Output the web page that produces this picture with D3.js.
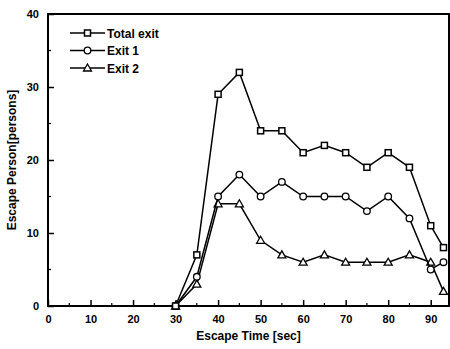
<!DOCTYPE html>
<html>
<head>
<meta charset="utf-8">
<script src="https://cdn.jsdelivr.net/npm/d3@7"></script>
<style>
  body { margin: 0; background: #fff; }
  text { font-family: "Liberation Sans", Arial, sans-serif; font-weight: bold; fill: #000; }
</style>
</head>
<body>
<svg id="chart" width="450" height="349"></svg>
<script>
// escape time (sec)
const times = [30, 35, 40, 45, 50, 55, 60, 65, 70, 75, 80, 85, 90, 93];
const totalExit = [0, 7, 29, 32, 24, 24, 21, 22, 21, 19, 21, 19, 11, 8];
const exit1 = [0, 4, 15, 18, 15, 17, 15, 15, 15, 13, 15, 12, 5, 6];
const exit2 = [0, 3, 14, 14, 9, 7, 6, 7, 6, 6, 6, 7, 6, 2];
const seriesNames = ['Total exit', 'Exit 1', 'Exit 2'];
const xTicks = [0, 10, 20, 30, 40, 50, 60, 70, 80, 90];
const yTicks = [0, 10, 20, 30, 40];

const svg = d3.select('#chart');
const plot = { left: 48, right: 449, top: 14, bottom: 306 };

const x = d3.scaleLinear().domain([0, 94.3]).range([plot.left, plot.right]);
const y = d3.scaleLinear().domain([0, 40]).range([plot.bottom, plot.top]);

// frame
svg.append('rect')
  .attr('x', plot.left).attr('y', plot.top)
  .attr('width', plot.right - plot.left).attr('height', plot.bottom - plot.top)
  .attr('fill', 'none').attr('stroke', '#000').attr('stroke-width', 2);

// x axis (ticks inward)
const xAxis = svg.append('g').attr('transform', `translate(0,${plot.bottom})`);
xAxis.call(d3.axisBottom(x).tickValues(xTicks).tickSizeInner(-6).tickSizeOuter(0).tickPadding(9));
xAxis.select('.domain').remove();
xAxis.selectAll('text').attr('font-size', 11).style('font-family', '"Liberation Sans", Arial, sans-serif').style('font-weight', 'bold');
xAxis.selectAll('line').attr('stroke-width', 1.5);
svg.append('g').selectAll('line')
  .data(d3.range(5, 94, 10))
  .join('line')
  .attr('x1', d => x(d)).attr('x2', d => x(d))
  .attr('y1', plot.bottom).attr('y2', plot.bottom - 3)
  .attr('stroke', '#000').attr('stroke-width', 1.2);

// y axis (ticks inward)
const yAxis = svg.append('g').attr('transform', `translate(${plot.left},0)`);
yAxis.call(d3.axisLeft(y).tickValues(yTicks).tickSizeInner(-6).tickSizeOuter(0).tickPadding(9));
yAxis.select('.domain').remove();
yAxis.selectAll('text').attr('font-size', 11).style('font-family', '"Liberation Sans", Arial, sans-serif').style('font-weight', 'bold');
yAxis.selectAll('line').attr('stroke-width', 1.5);
svg.append('g').selectAll('line')
  .data([5, 15, 25, 35])
  .join('line')
  .attr('x1', plot.left).attr('x2', plot.left + 3)
  .attr('y1', d => y(d)).attr('y2', d => y(d))
  .attr('stroke', '#000').attr('stroke-width', 1.2);

// axis titles
svg.append('text')
  .attr('x', (plot.left + plot.right) / 2).attr('y', 340)
  .attr('text-anchor', 'middle').attr('font-size', 12)
  .text('Escape Time [sec]');
svg.append('text')
  .attr('transform', `translate(16,${(plot.top + plot.bottom) / 2}) rotate(-90)`)
  .attr('text-anchor', 'middle').attr('font-size', 12)
  .text('Escape Person[persons]');

const line = d3.line().x(d => x(d[0])).y(d => y(d[1]));

function drawMarker(g, shape, cx, cy) {
  if (shape === 'square') {
    g.append('rect').attr('x', cx - 3).attr('y', cy - 3).attr('width', 6).attr('height', 6)
      .attr('fill', '#fff').attr('stroke', '#000').attr('stroke-width', 1.5);
  } else if (shape === 'circle') {
    g.append('circle').attr('cx', cx).attr('cy', cy).attr('r', 3.3)
      .attr('fill', '#fff').attr('stroke', '#000').attr('stroke-width', 1.3);
  } else {
    g.append('path')
      .attr('d', `M${cx},${cy - 4}L${cx + 4},${cy + 3}L${cx - 4},${cy + 3}Z`)
      .attr('fill', '#fff').attr('stroke', '#000').attr('stroke-width', 1.3);
  }
}

const series = [
  { values: exit2, shape: 'triangle' },
  { values: exit1, shape: 'circle' },
  { values: totalExit, shape: 'square' },
];

series.forEach(s => {
  const pts = times.map((t, i) => [t, s.values[i]]);
  const g = svg.append('g');
  g.append('path').datum(pts).attr('d', line)
    .attr('fill', 'none').attr('stroke', '#000').attr('stroke-width', 1.5);
  pts.forEach(p => drawMarker(g, s.shape, x(p[0]), y(p[1])));
});

// legend
const legendShapes = ['square', 'circle', 'triangle'];
seriesNames.forEach((name, i) => {
  const ly = 33 + i * 17.5;
  const g = svg.append('g');
  g.append('line').attr('x1', 70).attr('x2', 105).attr('y1', ly).attr('y2', ly)
    .attr('stroke', '#000').attr('stroke-width', 1.5);
  drawMarker(g, legendShapes[i], 87.5, ly);
  g.append('text').attr('x', 107).attr('y', ly + 4.5).attr('font-size', 12).text(name);
});
</script>
</body>
</html>
